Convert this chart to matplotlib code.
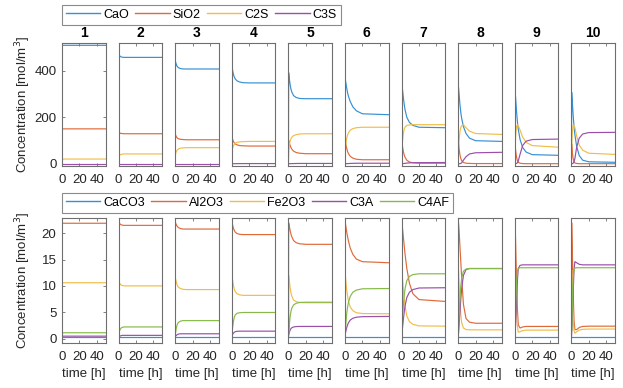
import numpy as np
import matplotlib
matplotlib.use('Agg')
import matplotlib.pyplot as plt

plt.rcParams['font.family'] = ['Liberation Sans', 'DejaVu Sans']

t_h = [0, 0.3, 1, 2, 3, 4, 6, 9, 13, 20, 50]

panel_titles = ['1', '2', '3', '4', '5', '6', '7', '8', '9', '10']

# top row: CaO, SiO2, C2S, C3S  [mol/m^3], one list per panel
cao = [
    [0, 510, 510, 510, 510, 510, 510, 510, 510, 510, 510],
    [0, 472, 466, 462, 460, 459, 458, 458, 458, 458, 458],
    [0, 440, 430, 421, 416, 413, 410, 408, 408, 408, 408],
    [0, 418, 400, 383, 372, 365, 357, 352, 349, 348, 348],
    [0, 392, 368, 340, 320, 308, 293, 285, 281, 280, 280],
    [0, 365, 348, 325, 305, 290, 268, 245, 228, 215, 211],
    [0, 344, 320, 285, 255, 232, 200, 178, 165, 157, 155],
    [0, 330, 300, 255, 220, 195, 160, 130, 110, 99, 96],
    [0, 315, 280, 225, 180, 148, 105, 70, 50, 39, 36],
    [0, 308, 270, 210, 160, 125, 75, 35, 15, 8, 6],
]
sio2 = [
    [0, 150, 150, 150, 150, 150, 150, 150, 150, 150, 150],
    [0, 138, 134, 131, 130, 130, 129, 129, 129, 129, 129],
    [0, 125, 118, 112, 109, 107, 105, 104, 103, 103, 103],
    [0, 112, 104, 95, 89, 85, 81, 78, 77, 76, 76],
    [0, 100, 90, 78, 69, 62, 54, 48, 45, 43, 43],
    [0, 95, 82, 65, 52, 43, 32, 24, 19, 17, 17],
    [0, 95, 75, 52, 37, 27, 15, 7, 4, 2, 2],
    [0, 90, 65, 38, 22, 13, 5, 2, 1, 0.5, 0.5],
    [0, 85, 55, 28, 13, 6, 2, 0.5, 0, 0, 0],
    [0, 85, 50, 22, 9, 3, 1, 0, 0, 0, 0],
]
c2s = [
    [0, 18, 19, 20, 20, 20, 20, 20, 20, 20, 20],
    [0, 30, 35, 39, 40, 41, 42, 42, 42, 42, 42],
    [0, 40, 50, 57, 61, 64, 67, 68, 69, 69, 69],
    [0, 55, 68, 78, 84, 88, 92, 94, 95, 96, 96],
    [0, 60, 80, 98, 108, 114, 121, 125, 128, 129, 129],
    [0, 60, 85, 110, 124, 133, 144, 151, 155, 157, 157],
    [0, 60, 95, 130, 148, 158, 165, 167, 168, 168, 168],
    [0, 60, 100, 138, 156, 164, 168, 155, 140, 130, 126],
    [0, 70, 120, 160, 168, 165, 145, 115, 92, 78, 71],
    [0, 75, 130, 166, 166, 155, 120, 80, 58, 45, 40],
]
c3s = [
    [0, 0, 0, 0, 0, 0, 0, 0, 0, 0, 0],
    [0, 0, 0, 0, 0, 0, 0, 0, 0, 0, 0],
    [0, 0, 0, 0, 0, 0, 0, 0, 0, 0, 0],
    [0, 0, 0, 0, 0, 0, 0.2, 0.3, 0.4, 0.5, 0.5],
    [0, 0, 0, 0, 0.2, 0.3, 0.5, 0.8, 1, 1, 1],
    [0, 0, 0, 0.2, 0.4, 0.6, 1, 1.5, 1.8, 2, 2],
    [0, 0, 0, 0.5, 1, 1.5, 2.5, 3.5, 4, 4.5, 5],
    [0, 0, 0, 0, 1, 4, 15, 30, 42, 47, 49],
    [0, 0, 0, 1, 4, 12, 40, 78, 97, 104, 106],
    [0, 0, 0, 2, 8, 22, 70, 110, 128, 134, 135],
]

# bottom row: CaCO3, Al2O3, Fe2O3, C3A, C4AF  [mol/m^3]
caco3 = [[0.3] * 11 for _ in range(10)]
al2o3 = [
    [0, 22, 21.9, 21.9, 21.9, 21.9, 21.9, 21.9, 21.9, 21.9, 21.9],
    [0, 22, 21.9, 21.7, 21.6, 21.55, 21.5, 21.5, 21.5, 21.5, 21.5],
    [0, 22, 21.7, 21.4, 21.2, 21.05, 20.9, 20.8, 20.8, 20.8, 20.8],
    [0, 22, 21.5, 20.9, 20.5, 20.2, 19.95, 19.8, 19.75, 19.75, 19.75],
    [0, 22, 21.4, 20.5, 19.8, 19.3, 18.6, 18.2, 18.0, 17.9, 17.9],
    [0, 22, 21.3, 20.2, 19.3, 18.5, 17.2, 16.0, 15.1, 14.6, 14.4],
    [0, 22, 21, 19.3, 17.6, 16.0, 13.3, 10.5, 8.5, 7.4, 7.05],
    [0, 22, 20.5, 17.5, 14.5, 11.5, 6.5, 3.8, 3.1, 2.9, 2.9],
    [0, 22, 18, 11, 5.5, 2.6, 2.0, 2.2, 2.3, 2.3, 2.3],
    [0, 22, 17, 9, 3.5, 1.7, 1.7, 2.1, 2.3, 2.35, 2.35],
]
fe2o3 = [
    [0, 10.6, 10.6, 10.6, 10.6, 10.6, 10.6, 10.6, 10.6, 10.6, 10.6],
    [0, 10.9, 10.6, 10.3, 10.15, 10.1, 10.0, 10.0, 10.0, 10.0, 10.0],
    [0, 11.4, 10.9, 10.3, 9.9, 9.7, 9.5, 9.35, 9.3, 9.3, 9.3],
    [0, 11.7, 11.0, 10.0, 9.3, 8.9, 8.5, 8.3, 8.2, 8.2, 8.2],
    [0, 12, 11, 9.6, 8.6, 8.0, 7.3, 7.0, 6.85, 6.8, 6.8],
    [0, 12, 10.8, 9.2, 8.0, 7.1, 6.0, 5.3, 4.9, 4.75, 4.7],
    [0, 13, 11.5, 9.3, 7.5, 6.1, 4.3, 3.2, 2.7, 2.4, 2.35],
    [0, 13, 10.5, 7, 4.5, 3, 2, 1.7, 1.65, 1.65, 1.65],
    [0, 13, 9.5, 5, 2.3, 1.2, 1.3, 1.5, 1.6, 1.6, 1.6],
    [0, 13, 9, 4, 1.5, 1.0, 1.3, 1.6, 1.75, 1.8, 1.8],
]
c3a = [
    [0, 0.45, 0.45, 0.45, 0.45, 0.45, 0.45, 0.45, 0.45, 0.45, 0.45],
    [0, 0.3, 0.4, 0.5, 0.55, 0.6, 0.6, 0.6, 0.6, 0.6, 0.6],
    [0, 0.4, 0.55, 0.7, 0.8, 0.85, 0.9, 0.9, 0.9, 0.9, 0.9],
    [0, 0.5, 0.8, 1.05, 1.2, 1.3, 1.37, 1.4, 1.4, 1.4, 1.4],
    [0, 0.6, 1.1, 1.6, 1.9, 2.05, 2.2, 2.27, 2.3, 2.3, 2.3],
    [0, 0.9, 1.4, 2.1, 2.6, 3.0, 3.5, 3.85, 4.05, 4.15, 4.2],
    [0, 1, 2, 3.6, 5, 6.2, 7.8, 8.8, 9.3, 9.6, 9.65],
    [0, 1, 2.5, 5, 7.5, 9.5, 12, 13.1, 13.3, 13.3, 13.3],
    [0, 1, 3, 7, 11, 13.3, 13.9, 14, 14, 14, 14],
    [0, 1, 3.5, 8.5, 13, 14.6, 14.4, 14.1, 14.0, 14.0, 14.0],
]
c4af = [
    [11, 1.0, 1.05, 1.1, 1.1, 1.1, 1.1, 1.1, 1.1, 1.1, 1.1],
    [11, 1.0, 1.4, 1.8, 2.0, 2.1, 2.2, 2.2, 2.2, 2.2, 2.2],
    [11, 1.0, 1.8, 2.5, 2.9, 3.1, 3.3, 3.4, 3.4, 3.4, 3.4],
    [11, 1.0, 2.2, 3.4, 4.1, 4.5, 4.8, 4.9, 4.95, 4.95, 4.95],
    [11, 1.0, 2.5, 4.2, 5.2, 5.8, 6.4, 6.7, 6.85, 6.9, 6.9],
    [11, 1.0, 2.8, 4.8, 6.0, 6.9, 8.0, 8.8, 9.2, 9.45, 9.5],
    [11, 1.0, 3.5, 6.3, 8.2, 9.5, 11.0, 11.8, 12.15, 12.3, 12.3],
    [11, 1.0, 4.0, 7.5, 10, 11.5, 12.8, 13.2, 13.3, 13.3, 13.3],
    [11, 1.5, 6, 11, 12.8, 13.3, 13.45, 13.45, 13.45, 13.45, 13.45],
    [11, 1.5, 6.5, 11.5, 13.0, 13.4, 13.45, 13.45, 13.45, 13.45, 13.45],
]

top_names = ['CaO', 'SiO2', 'C2S', 'C3S']
bottom_names = ['CaCO3', 'Al2O3', 'Fe2O3', 'C3A', 'C4AF']

# matlab-like line colours, a bit lighter as they look in the picture
line_colors = ['#3590D4', '#E06A3A', '#F0BE48', '#9A4FA8', '#86BA48']
spine_gray = '#6e6e6e'
text_col = '#262626'
fs = 9.5

W, H = 623, 388
fig = plt.figure(figsize=(W / 100, H / 100), dpi=100)


def px_axes(x0, y_top, w, h):
    return fig.add_axes([x0 / W, 1 - (y_top + h) / H, w / W, h / H])


def style_axes(ax, first):
    for s in ax.spines.values():
        s.set_color(spine_gray)
        s.set_linewidth(0.8)
    ax.set_xlim(0, 50)
    ax.set_xticks([0, 20, 40])
    ax.tick_params(axis='x', direction='in', length=2, width=0.6, color=spine_gray,
                   top=True, labelsize=fs, pad=6, labelcolor=text_col)
    if first:
        ax.tick_params(axis='y', direction='in', length=2, width=0.6, color=spine_gray,
                       right=True, labelsize=fs, pad=4, labelcolor=text_col)
    else:
        ax.set_yticks([])


top_series = [cao, sio2, c2s, c3s]
bottom_series = [caco3, al2o3, fe2o3, c3a, c4af]

pitch = 56.6
for i in range(10):
    x0 = 62 + i * pitch

    ax = px_axes(x0, 43, 43.5, 123)
    lines = []
    for k, data in enumerate(top_series):
        ln, = ax.plot(t_h, data[i], color=line_colors[k], lw=0.85)
        lines.append(ln)
    ax.set_ylim(-10, 520)
    if i == 0:
        ax.set_yticks([0, 200, 400])
        ax.set_ylabel('Concentration [mol/m$^3$]', fontsize=fs, labelpad=1, color=text_col)
        top_lines = lines
    style_axes(ax, i == 0)
    ax.set_title(panel_titles[i], fontsize=10, fontweight='bold', pad=4)

    ax = px_axes(x0, 218, 43.5, 125)
    lines = []
    for k, data in enumerate(bottom_series):
        ln, = ax.plot(t_h, data[i], color=line_colors[k], lw=0.85)
        lines.append(ln)
    ax.set_ylim(-0.85, 22.9)
    if i == 0:
        ax.set_yticks([0, 5, 10, 15, 20])
        ax.set_ylabel('Concentration [mol/m$^3$]', fontsize=fs, labelpad=6, color=text_col)
        bottom_lines = lines
    style_axes(ax, i == 0)
    ax.set_xlabel('time [h]', fontsize=fs, labelpad=3, color=text_col)

leg_kw = dict(loc='upper left', frameon=True, fancybox=False, fontsize=9,
              handlelength=2.75, handletextpad=0.25, columnspacing=0.5,
              borderpad=0.3, borderaxespad=0)
leg1 = fig.legend(top_lines, top_names, ncol=4, bbox_to_anchor=(62 / W, 1 - 5 / H), **leg_kw)
leg2 = fig.legend(bottom_lines, bottom_names, ncol=5, bbox_to_anchor=(62 / W, 1 - 193 / H), **leg_kw)
for leg in (leg1, leg2):
    leg.get_frame().set_edgecolor(spine_gray)
    leg.get_frame().set_linewidth(0.8)
    for hl in leg.get_lines():
        hl.set_linewidth(1.0)

fig.savefig('out.png', dpi=100)
